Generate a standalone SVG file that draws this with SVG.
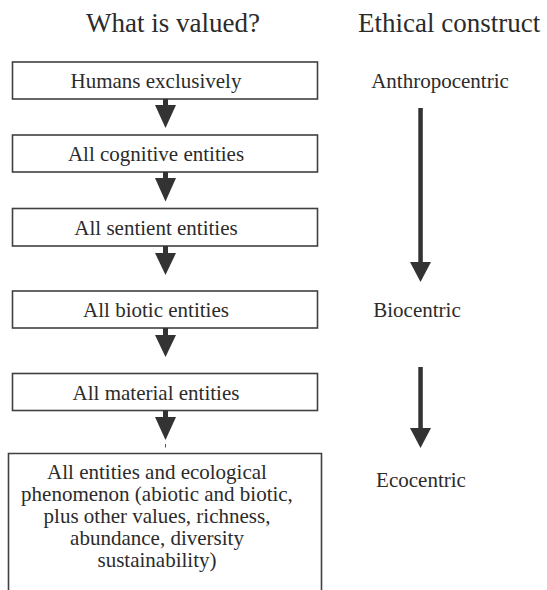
<svg xmlns="http://www.w3.org/2000/svg" width="547" height="590" viewBox="0 0 547 590">
  <style>
    .title { font-family: "Liberation Serif", "Times New Roman", serif; font-size: 27px; fill: #2b2b2b; }
    .lbl { font-family: "Liberation Serif", "Times New Roman", serif; font-size: 21px; text-anchor: middle; fill: #2b2b2b; }
    .box { fill: #ffffff; stroke: #404040; stroke-width: 1.6; }
    .arrow { fill: #333333; }
  </style>
  <rect width="547" height="590" fill="#ffffff"/>

  <!-- column headings -->
  <g id="headings">
    <text class="title" x="173" y="32" text-anchor="middle">What is valued?</text>
    <text class="title" x="358" y="32">Ethical construct</text>
  </g>

  <!-- value nodes -->
  <g id="humans">
    <rect class="box" x="12.5" y="62" width="305" height="37"/>
    <text class="lbl" x="156" y="88">Humans exclusively</text>
  </g>
  <g id="cognitive">
    <rect class="box" x="12.5" y="135" width="305" height="37"/>
    <text class="lbl" x="156" y="161">All cognitive entities</text>
  </g>
  <g id="sentient">
    <rect class="box" x="12.5" y="208.5" width="305" height="37.5"/>
    <text class="lbl" x="156" y="234.5">All sentient entities</text>
  </g>
  <g id="biotic">
    <rect class="box" x="12.5" y="291" width="305" height="37"/>
    <text class="lbl" x="156" y="317">All biotic entities</text>
  </g>
  <g id="material">
    <rect class="box" x="12.5" y="373.5" width="305" height="37"/>
    <text class="lbl" x="156" y="399.5">All material entities</text>
  </g>
  <g id="ecological">
    <path class="box" d="M8.5 595 V453.5 H321.5 V595"/>
    <text class="lbl" x="157" y="479">All entities and ecological</text>
    <text class="lbl" x="157" y="501">phenomenon (abiotic and biotic,</text>
    <text class="lbl" x="157" y="523">plus other values, richness,</text>
    <text class="lbl" x="157" y="545">abundance, diversity</text>
    <text class="lbl" x="157" y="567">sustainability)</text>
  </g>

  <!-- ethical construct labels -->
  <g id="anthropocentric">
    <text class="lbl" x="440" y="88">Anthropocentric</text>
  </g>
  <g id="biocentric">
    <text class="lbl" x="417" y="317">Biocentric</text>
  </g>
  <g id="ecocentric">
    <text class="lbl" x="421" y="487">Ecocentric</text>
  </g>

  <!-- connectors: short block arrows between nodes, long arrows beside them -->
  <g id="connectors">
    <rect class="arrow" x="163" y="99" width="5" height="7"/>
    <polygon class="arrow" points="155,105 176,105 165.5,128"/>

    <rect class="arrow" x="163" y="172" width="5" height="7"/>
    <polygon class="arrow" points="155,178 176,178 165.5,201.5"/>

    <rect class="arrow" x="163" y="246" width="5" height="8"/>
    <polygon class="arrow" points="155,253 176,253 165.5,275"/>

    <rect class="arrow" x="163" y="328" width="5" height="8"/>
    <polygon class="arrow" points="155,335 176,335 165.5,357"/>

    <rect class="arrow" x="163" y="410.5" width="5" height="7"/>
    <polygon class="arrow" points="155,417 176,417 165.5,440"/>
    <line x1="165.5" y1="444" x2="165.5" y2="447.5" stroke="#555555" stroke-width="1"/>

    <rect class="arrow" x="418.3" y="108" width="4.5" height="155"/>
    <polygon class="arrow" points="410,262 431,262 420.5,282"/>

    <rect class="arrow" x="418.3" y="367" width="4.5" height="62"/>
    <polygon class="arrow" points="410,428 431,428 420.5,448"/>
  </g>
</svg>
